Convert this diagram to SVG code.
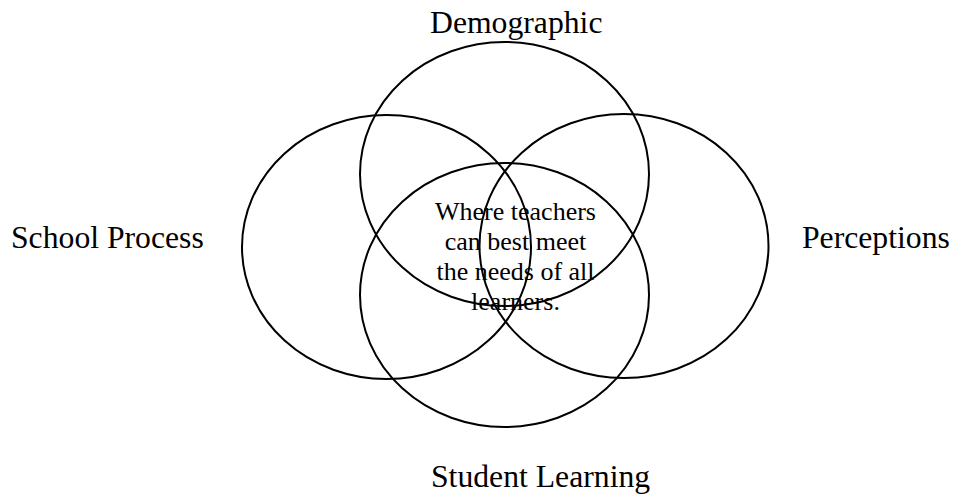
<svg xmlns="http://www.w3.org/2000/svg" width="954" height="495" viewBox="0 0 954 495">
  <style>
    .ring { fill: none; stroke: #000; stroke-width: 2; }
    .label { font-family: "Liberation Serif", "Times New Roman", serif; font-size: 31.7px; fill: #000; }
    .core { font-family: "Liberation Serif", "Times New Roman", serif; font-size: 26px; fill: #000; text-anchor: middle; }
  </style>
  <rect width="954" height="495" fill="#fff"/>

  <g id="demographic">
    <ellipse class="ring" cx="504.5" cy="174" rx="144.5" ry="132"/>
    <text class="label" x="430" y="33">Demographic</text>
  </g>

  <g id="school-process">
    <ellipse class="ring" cx="386.5" cy="247" rx="144.5" ry="132"/>
    <text class="label" x="11" y="248">School Process</text>
  </g>

  <g id="perceptions">
    <ellipse class="ring" cx="624" cy="246" rx="144.5" ry="132"/>
    <text class="label" x="802" y="248">Perceptions</text>
  </g>

  <g id="student-learning">
    <ellipse class="ring" cx="504.5" cy="295" rx="144.5" ry="132"/>
    <text class="label" x="431" y="487">Student Learning</text>
  </g>

  <g id="overlap">
    <text class="core" x="515.5" y="220">Where teachers</text>
    <text class="core" x="515.5" y="250">can best meet</text>
    <text class="core" x="515.5" y="280">the needs of all</text>
    <text class="core" x="515.5" y="310">learners.</text>
  </g>
</svg>
